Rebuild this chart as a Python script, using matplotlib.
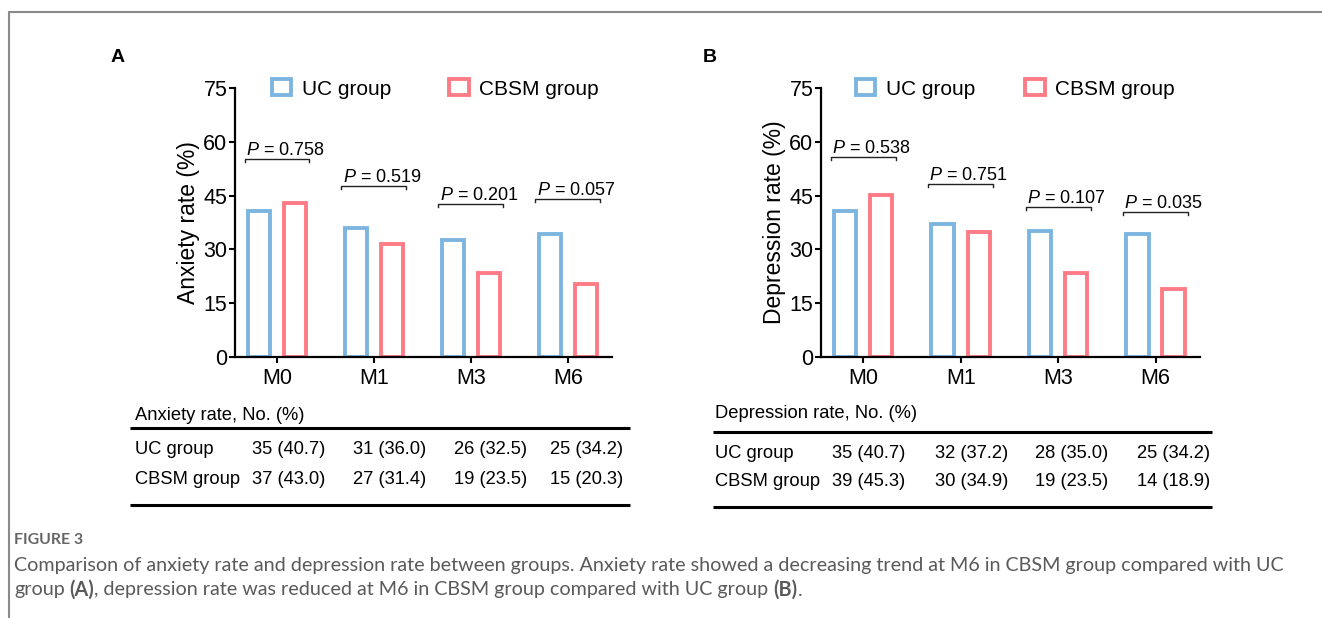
import matplotlib
matplotlib.use('Agg')
import matplotlib.pyplot as plt
import numpy as np
from matplotlib.patches import Patch

plt.rcParams['font.family'] = ['Liberation Sans', 'DejaVu Sans']
plt.rcParams['mathtext.fontset'] = 'custom'
plt.rcParams['mathtext.rm'] = 'Liberation Sans'
plt.rcParams['mathtext.it'] = 'Liberation Sans:italic'

# data
months = ['M0', 'M1', 'M3', 'M6']
anx_uc_n = [35, 31, 26, 25]
anx_uc_pct = [40.7, 36.0, 32.5, 34.2]
anx_cbsm_n = [37, 27, 19, 15]
anx_cbsm_pct = [43.0, 31.4, 23.5, 20.3]
dep_uc_n = [35, 32, 28, 25]
dep_uc_pct = [40.7, 37.2, 35.0, 34.2]
dep_cbsm_n = [39, 30, 19, 14]
dep_cbsm_pct = [45.3, 34.9, 23.5, 18.9]
anx_p = [0.758, 0.519, 0.201, 0.057]
dep_p = [0.538, 0.751, 0.107, 0.035]
groups = ['UC group', 'CBSM group']

# layout (bracket heights in data units)
anx_bracket_y = [55.2, 47.7, 42.7, 44.1]
dep_bracket_y = [55.7, 48.2, 41.9, 40.5]

BLUE = '#7DB5E1'
RED = '#FF7B86'
W, H = 1322, 618
BW = 0.23
OFF = 0.185
LW = 2.8
TABLE_FS = 13.2

fig = plt.figure(figsize=(W / 100, H / 100), dpi=100)

# overlay axes in pixel coordinates for table rules, texts and frame
ov = fig.add_axes([0, 0, 1, 1], zorder=5)
ov.set_xlim(0, W)
ov.set_ylim(H, 0)
ov.axis('off')


def fx(px):
    return px / W


def fy(py):
    return 1 - py / H


def draw_panel(left, right, letter, letter_xy, ylabel, uc, cbsm, pvals, bys,
               legend_x, colspacing):
    ax = fig.add_axes([fx(left), fy(357), (right - left) / W, (357 - 88) / H])
    x = np.arange(len(months))
    ax.bar(x - OFF, uc, width=BW, facecolor='white', edgecolor=BLUE, linewidth=LW)
    ax.bar(x + OFF, cbsm, width=BW, facecolor='white', edgecolor=RED, linewidth=LW)
    ax.set_ylim(0, 75)
    ax.set_xlim(-0.433, 3.455)
    ax.set_yticks(np.arange(0, 76, 15))
    ax.set_xticks(x, months)
    for s in ['top', 'right']:
        ax.spines[s].set_visible(False)
    for s in ['left', 'bottom']:
        ax.spines[s].set_linewidth(1.6)
    ax.tick_params(direction='out', length=4, width=1.5, labelsize=15.5)
    ax.tick_params(axis='y', pad=1.5)
    ax.tick_params(axis='x', pad=4)
    ax.set_ylabel(ylabel, fontsize=16.5, labelpad=2)

    span = OFF + BW / 2 + 0.035
    for i, (p, by) in enumerate(zip(pvals, bys)):
        xl, xr = i - span, i + span
        ax.plot([xl, xl, xr, xr], [by - 0.9, by, by, by - 0.9], color='#222222',
                lw=1.0, clip_on=False)
        ax.annotate(f"$P$ = {p:.3f}", xy=(xl, by), xytext=(1, 3),
                    textcoords='offset points', ha='left', va='baseline',
                    fontsize=13, annotation_clip=False)

    handles = [Patch(facecolor='white', edgecolor=BLUE, linewidth=LW),
               Patch(facecolor='white', edgecolor=RED, linewidth=LW)]
    ax.legend(handles, groups, loc='center left',
              bbox_to_anchor=(fx(legend_x), fy(89)), bbox_transform=fig.transFigure,
              ncol=2, frameon=False, borderpad=0, borderaxespad=0,
              handlelength=0.95, handleheight=0.78, handletextpad=0.5,
              columnspacing=colspacing, fontsize=15)

    ov.text(letter_xy[0], letter_xy[1], letter, weight='bold',
            fontsize=14, ha='center', va='center')
    return ax


def draw_table(title, title_xy, rule_x, rule_y, row_y, col_right, uc_n, uc_pct,
               cb_n, cb_pct):
    ov.text(title_xy[0], title_xy[1], title, fontsize=TABLE_FS, ha='left',
            va='center')
    for ry in rule_y:
        ov.plot([rule_x[0], rule_x[1]], [ry, ry], color='black', lw=2.2,
                solid_capstyle='butt', clip_on=False, zorder=10)
    rows = [(groups[0], uc_n, uc_pct), (groups[1], cb_n, cb_pct)]
    for (name, ns, ps), yy in zip(rows, row_y):
        ov.text(title_xy[0], yy, name, fontsize=TABLE_FS, ha='left', va='center')
        for n, p, cx in zip(ns, ps, col_right):
            ov.text(cx, yy, f"{n} ({p:.1f})", fontsize=TABLE_FS,
                    ha='right', va='center')


draw_panel(235, 612, 'A', (118, 58), 'Anxiety rate (%)', anx_uc_pct, anx_cbsm_pct,
           anx_p, anx_bracket_y, 271.5, 2.8)
draw_panel(821, 1200, 'B', (710, 57), 'Depression rate (%)', dep_uc_pct, dep_cbsm_pct,
           dep_p, dep_bracket_y, 855.5, 2.4)

draw_table('Anxiety rate, No. (%)', (135, 415), (130, 630), [428, 505], (450, 480),
           [325, 426, 527, 623], anx_uc_n, anx_uc_pct, anx_cbsm_n, anx_cbsm_pct)
draw_table('Depression rate, No. (%)', (715, 414), (713, 1212), [432, 507], (453, 481),
           [905, 1008, 1108, 1210], dep_uc_n, dep_uc_pct, dep_cbsm_n, dep_cbsm_pct)

# frame lines
ov.plot([9, 9, W], [H, 12, 12], color='#8a8a8a', lw=1.5, clip_on=False, zorder=10)

# caption
CAP_FONT = ['Lato', 'DejaVu Sans']
CAP_COLOR = '#5a5a5a'
renderer = fig.canvas.get_renderer()


def text_width(s, size, weight='normal'):
    t = fig.text(0, 0, s, fontsize=size, weight=weight, family=CAP_FONT)
    w = t.get_window_extent(renderer).width
    t.remove()
    return w


line1 = ("Comparison of anxiety rate and depression rate between groups. Anxiety rate "
         "showed a decreasing trend at M6 in CBSM group compared with UC")
cap_size = 10 * (1290 - 14) / text_width(line1, 10)

ov.text(14, 540, 'FIGURE 3', fontsize=cap_size * 0.8, color='#666666',
        family=CAP_FONT, weight='bold', ha='left', va='center')
ov.text(14, 565, line1, fontsize=cap_size, color=CAP_COLOR,
        family=CAP_FONT, ha='left', va='center')

space_w = text_width('x x', cap_size) - text_width('xx', cap_size)
runs = [('group', 'normal', True), ('(A)', 'bold', False),
        (', depression rate was reduced at M6 in CBSM group compared with UC group',
         'normal', True), ('(B)', 'bold', False), ('.', 'normal', False)]
xpos = 14
for txt, weight, gap in runs:
    ov.text(xpos, 590, txt, fontsize=cap_size, color=CAP_COLOR,
            family=CAP_FONT, weight=weight, ha='left', va='center')
    xpos += text_width(txt, cap_size, weight) + (space_w if gap else 0)

fig.savefig('out.png', dpi=100, facecolor='white')
